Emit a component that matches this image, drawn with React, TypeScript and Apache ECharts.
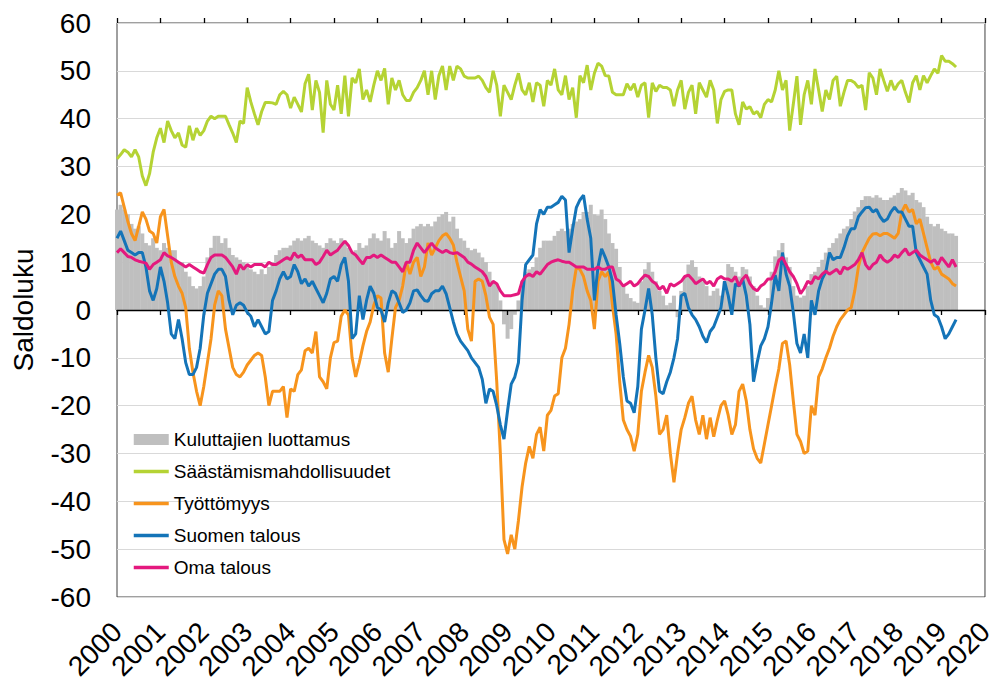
import React, { useEffect, useRef } from "react";
import * as echarts from "echarts";

// Monthly data, January 2000 – May 2019
const START_YEAR = 2000;
const X_MIN = 2000;
const X_MAX = 2020;
const Y_MIN = -60;
const Y_MAX = 60;

const SERIES_NAMES = [
  "Kuluttajien luottamus",
  "Säästämismahdollisuudet",
  "Työttömyys",
  "Suomen talous",
  "Oma talous",
];

const kuluttajienLuottamus = [
  21, 22, 21, 20, 18, 17, 17.5, 16, 14, 13.5, 15, 13, 12.5, 14, 13, 12.5, 12.5, 10, 10, 8, 7, 5, 4.5, 5, 7, 11, 13, 15.5, 15.5, 14,
  15, 13, 11.5, 11, 10.5, 10, 9.5, 8.5, 8, 7.5, 8.5, 7.5, 9, 10, 11.5, 12.5, 13, 13, 13.5, 14.5, 15, 14.5, 15, 15.5, 14.5, 14, 13.5, 13, 14, 15,
  14.5, 14, 15, 14.5, 13, 12, 12.5, 14, 13, 13.5, 15, 16, 15, 14.5, 16.5, 15, 13, 14, 16.5, 15, 14, 15, 17, 17.5, 18, 17.5, 18, 17.5, 18.5, 19.5,
  20, 20.5, 18.5, 19.5, 17, 15, 14.5, 13, 12.5, 12.8, 12, 11, 10, 8, 6, 5.5, 2, -3, -6, -4, -1, 2, 6, 8, 8.5, 9, 11, 13, 14.5, 14.5,
  14.5, 15.5, 16.5, 17, 16.5, 17, 18, 18.5, 19, 20.5, 20.5, 22, 20, 19.8, 21, 19, 16, 14, 12.8, 9, 5, 3.4, 2.5, 1.8, 1.5, 6, 8.5, 10, 8, 6, 4,
  3, 1, 1.5, 3, -1.5, 4, 7, 9.5, 10.4, 9, 7, 6, 5, 3, 4, 4.5, 3, 6, 9.6, 9, 8, 7, 9, 8.5, 7, 5, 3, 1, 0.5, 2.5,
  8, 11.2, 12.5, 14, 11, 9, 5, 3, 2.6, 3, 5, 7.5, 8, 9, 10.5, 12, 13, 14, 15, 16, 17, 17.5, 19, 20.6, 21.5, 23, 23.8, 23.8, 23.5, 24,
  23.5, 23, 23, 23.5, 24, 24.5, 25.5, 25, 24, 24.5, 23, 22.5, 21.5, 19.5, 18, 17.5, 18, 17, 16.5, 16, 16, 15.5,
];

const saastamismahdollisuudet = [
  31.6, 32.5, 33.5, 33, 32, 33.5, 32, 28, 26, 28.5, 33, 36, 38, 35, 39.5, 37.5, 36, 37, 34.5, 34, 38.5, 35.5, 38, 36.5, 37.5, 39.5, 40.5, 40, 40.5, 40.5,
  40.5, 38.7, 37, 35, 39.5, 39, 46.5, 43.5, 41, 38.7, 41.5, 43.4, 43.4, 43.3, 43, 45, 45.7, 45, 42.2, 44.5, 43, 41.4, 47.3, 49.3, 41.8, 48, 45.5, 37.1, 48, 43,
  41.8, 47, 41, 49, 40.5, 48.5, 47.5, 50.4, 44, 46, 43.5, 47, 50, 48, 50.5, 43, 48.5, 46, 48, 45, 43.8, 43.8, 45.5, 46.5, 48, 50, 45, 50, 44, 49,
  51, 46, 51, 48, 51, 50.4, 48.9, 48.5, 48.5, 48.5, 48.9, 48, 46.5, 45.5, 50, 47, 40.5, 47, 45.5, 44, 47, 49.5, 46, 45, 47.5, 43.5, 47.5, 47, 42.6, 48,
  47, 50.4, 46, 45, 49, 44, 46.5, 40.2, 49, 47.5, 51.2, 46, 49.5, 51.6, 51, 49, 48.9, 45.5, 45, 45, 45, 47.3, 46, 47.3, 44.5, 47, 47.5, 40.2, 47.5, 45.7,
  47, 46.5, 46.5, 46, 42.6, 46, 48, 42, 45.5, 47, 41, 47.5, 46, 44.5, 48, 46, 39, 44, 45.7, 46, 46, 41, 38.7, 43.5, 42, 42.5, 41, 41.5, 40.2, 43, 44,
  43.5, 46, 50, 46, 48, 37.5, 43, 48.9, 38.7, 45, 48, 43, 50.4, 46, 41.5, 46, 44, 48, 48.9, 42.6, 45.5, 48, 48, 47.5, 46.5, 47, 41.8, 49.6, 48.5, 45,
  50.4, 48, 45.7, 48, 46, 47.3, 48, 45.5, 43.4, 47.5, 49, 46, 49, 47.5, 49, 50.4, 49.5, 53.2, 52, 52, 51.5, 50.8,
];

const tyottomyys = [
  24, 24.5, 21.5, 18.5, 16, 14.5, 17.5, 20.5, 19, 16.5, 16, 14, 19.5, 21, 15.5, 10, 7, 5, 3.5, 0.5, -8, -13, -17, -20, -16, -11, -6, 1, 4, 3,
  -4, -8, -12, -13.5, -14, -13, -11.5, -10.5, -9.5, -9, -9.5, -14, -20, -17, -17, -17, -16, -22.5, -16.5, -17, -13.5, -12.5, -8.5, -8, -9, -4.5, -14, -15, -16.5, -10,
  -6.8, -6.5, -1.3, 0, -1, -10, -14, -11, -7.5, -4.5, -2.5, 1, 3, 2.5, -9, -13, -6, 0.5, 2, 5, 10, 7.5, 10, 11, 7, 9, 14, 11.5, 13, 14.5,
  15.5, 16, 15, 13.6, 10, 7, 4, -4, -6.5, 6, 6.5, 6, 3, -1.5, -3, -15, -30, -48, -51, -47, -50, -44, -37, -32, -28.5, -31, -26, -24.5, -29.5, -22,
  -21, -18, -17.5, -10, -8, -3, 4, 8.9, 8.5, 7, 4, 2, -4, 6, 8, 7, 8, 1, -5, -15, -23, -25, -26.4, -29.5, -26, -17, -13, -9.5, -12, -18, -26,
  -25, -22, -30, -36, -30, -25, -22.5, -19.5, -18, -23, -26, -22, -27, -22.5, -26.5, -23, -20, -19, -22, -26, -24, -17, -15.5, -19, -25, -29, -31, -32, -28, -24,
  -20, -16, -12.3, -7, -6.5, -11.5, -19, -26, -27.5, -30, -29.5, -20, -22, -14, -12.3, -10, -8, -5.5, -3.5, -2, -1, 0, 0.5, 4, 9, 12, 13.5, 15, 15.9, 16,
  15.5, 16, 16, 15.5, 15, 16, 20.5, 22, 20.5, 21, 18, 19, 16, 13, 10, 8.5, 9, 7.5, 7, 6.5, 5.5, 5,
];

const suomenTalous = [
  15, 16.5, 14.5, 12.5, 12, 11.5, 12, 12, 9, 4, 2, 4.5, 9, 6, 1.5, -5, -6, -2, -6, -11, -13.5, -13.5, -12, -8, -1, 3.5, 5.5, 7.5, 8.5, 8.5,
  7, 2, -1, 1, 1.5, 1, -0.5, -1.3, -3.5, -2, -3.5, -5, -4.5, 2, 4, 6.5, 8, 6.5, 7, 9.5, 8, 5.5, 6.5, 5, 6, 4.5, 3, 1.5, 3.5, 6.5,
  7, 6, 9.5, 11, 6, -6, -5, 3, -2, 2, 5, 3.5, 0.5, 0, -2.5, 1.5, 4, 3.5, 1.5, -0.5, 0, 1.5, 4, 4.2, 3, 2, 1.8, 3.4, 4, 4,
  5, 3.4, 0.5, -2.5, -5, -6.5, -7.5, -8.5, -10, -11, -12, -14.5, -19.5, -16.5, -17, -20, -24, -27, -21, -15.5, -14, -11, 2, 9.5, 10.5, 11.5, 18, 21, 20, 21.5,
  21.5, 22, 22.5, 23.8, 23, 12, 17, 21.4, 23, 24, 19, 15, 2, 9, 12.8, 11, 9, 6, -1, -7, -14, -19, -19.5, -21.5, -16, -4, 0, 4.5, -1, -10, -17,
  -17.5, -15, -13, -10, -6, 3, 3.5, 0.5, -1, -2, -3.5, -5.5, -6.8, -4.5, -3.5, -1.5, 0.5, 6, 3, -1, 5.5, 5, 6.5, 3, -3, -15, -11, -7.5, -6, -3.5,
  1.5, 7.3, 4, 12, 7.5, 5, -0.5, -7, -9, -5, -10, 2, -1, 4, 6.5, 8, 12, 10.5, 11, 11, 13, 15.5, 17, 17, 19.5, 20.5, 21.4, 21.5, 20.5, 21,
  19.5, 18.5, 19, 20.5, 21.5, 20.5, 20.5, 19, 17.5, 17.5, 12, 10.5, 9, 7.5, 2, -1, -1.5, -3.5, -6, -5, -3.5, -2,
];

const omaTalous = [
  12, 12.8, 12, 11.2, 11, 10.5, 10.2, 10, 9.8, 8.5, 9.5, 10, 10.5, 12, 11.3, 11, 10.5, 10, 9.5, 9, 9.5, 9, 8.5, 8, 7.7, 9.5, 11, 11.5, 11.5, 11.5,
  11, 10, 9, 7.5, 9.5, 8.5, 9.5, 9, 9.5, 9.5, 9.5, 9, 10, 9.5, 9.5, 10, 10.5, 11, 10.5, 12, 11, 11.5, 10.5, 10.5, 10.5, 9.5, 10, 11.2, 12.5, 11.5,
  12, 12.5, 13.5, 14.4, 13.5, 12, 11.5, 10.5, 9.6, 11, 11, 11.5, 11, 11.5, 11, 10.5, 10, 10, 9, 8, 10, 10, 12.5, 14, 13, 12, 13, 14, 13, 12.5,
  12, 12.5, 12, 11.8, 12, 11.5, 11, 10, 9.6, 9, 8.5, 8, 7, 5, 6, 5.5, 4, 3, 3, 3, 3.2, 3.4, 6, 7, 7.5, 7, 8, 7.5, 8.5, 9.5,
  10, 10.3, 10.5, 10.2, 10, 10, 9.5, 9, 9, 9, 8.5, 8.5, 8.5, 9, 8.5, 8.5, 9, 9, 6.5, 6, 5, 5.5, 6, 5, 5.5, 6.5, 7.3, 7, 6, 5.5, 4.3,
  5, 3.5, 5.5, 5, 5.5, 6, 7, 7.3, 6.5, 5.5, 6, 6.5, 5.5, 6, 5, 6.5, 7, 6.5, 6.5, 6, 7, 5, 6.5, 7.3, 5.5, 4.5, 4, 5, 5.5, 6.5,
  6.5, 8, 10.4, 11, 9.5, 8, 7, 5.5, 3.4, 4.5, 6, 5.5, 7, 6.5, 7.5, 8.1, 7.5, 8, 8.5, 7.5, 9, 8.5, 9, 9.5, 10.5, 12, 9.5, 8.5, 9.5, 10,
  11.5, 10.5, 10, 10.5, 11.5, 11, 12, 12.8, 11.5, 12, 12.5, 11.5, 11, 10.5, 10, 10.5, 9.5, 11, 10, 9, 10.5, 9,
];

const COLORS = {
  bars: "#bfbfbf",
  savings: "#b5d334",
  unemployment: "#f7941d",
  economy: "#1474b8",
  own: "#e4197e",
};

function toPoints(values: number[]) {
  return values.map((v, i) => [START_YEAR + i / 12, v]);
}

export default function App() {
  const ref = useRef<HTMLDivElement>(null);

  useEffect(() => {
    if (!ref.current) return;
    const chart = echarts.init(ref.current, null, { renderer: "svg" });
    const font = '"Liberation Sans", Arial, sans-serif';

    const lineSeries = (name: string, values: number[], color: string) => ({
      name,
      type: "line",
      xAxisIndex: 0,
      yAxisIndex: 0,
      data: toPoints(values),
      showSymbol: false,
      symbol: "none",
      smooth: false,
      lineStyle: { width: 3, color },
      itemStyle: { color },
      z: 20,
    });

    const sharedX = {
      type: "value",
      min: X_MIN,
      max: X_MAX,
      interval: 1,
      splitLine: { show: false },
    };

    const hiddenSymbol = { opacity: 0, color: "rgba(0,0,0,0)", borderWidth: 0 };

    chart.setOption({
      animation: false,
      backgroundColor: "#ffffff",
      textStyle: { fontFamily: font },
      grid: {
        left: 117,
        right: 2,
        top: 23,
        bottom: 87,
        show: true,
        borderColor: "#404040",
        borderWidth: 1,
      },
      legend: {
        orient: "vertical",
        left: 132,
        top: 430,
        padding: 0,
        itemGap: 13,
        itemWidth: 35,
        itemHeight: 11,
        lineStyle: { width: 3.5 },
        textStyle: { fontSize: 19, color: "#000", fontFamily: font },
        data: [
          { name: SERIES_NAMES[0], icon: "rect" },
          { name: SERIES_NAMES[1], itemStyle: hiddenSymbol },
          { name: SERIES_NAMES[2], itemStyle: hiddenSymbol },
          { name: SERIES_NAMES[3], itemStyle: hiddenSymbol },
          { name: SERIES_NAMES[4], itemStyle: hiddenSymbol },
        ],
      },
      xAxis: [
        {
          ...sharedX,
          position: "bottom",
          axisLine: { show: false, onZero: false },
          axisTick: { show: false },
          axisLabel: {
            rotate: 45,
            fontSize: 28,
            color: "#000",
            fontFamily: font,
            margin: 30,
            formatter: (v: number) => String(Math.round(v)),
          },
        },
        {
          ...sharedX,
          position: "bottom",
          z: 10,
          axisLine: { show: true, onZero: true, lineStyle: { color: "#000", width: 1.3 } },
          axisTick: { show: true, length: 5, lineStyle: { color: "#000", width: 1.3 } },
          axisLabel: { show: false },
        },
        {
          ...sharedX,
          position: "top",
          z: 10,
          axisLine: { show: false, onZero: true },
          axisTick: { show: true, length: 5, lineStyle: { color: "#000", width: 1.3 } },
          axisLabel: { show: false },
        },
      ],
      yAxis: {
        type: "value",
        min: Y_MIN,
        max: Y_MAX,
        interval: 10,
        name: "Saldoluku",
        nameLocation: "middle",
        nameGap: 80,
        nameTextStyle: { fontSize: 28, color: "#000", fontFamily: font },
        axisLine: { show: false },
        axisTick: { show: false },
        splitLine: { lineStyle: { color: "#d9d9d9", width: 1 } },
        axisLabel: { fontSize: 28, color: "#000", fontFamily: font, margin: 26 },
      },
      series: [
        {
          name: SERIES_NAMES[0],
          type: "bar",
          xAxisIndex: 0,
          yAxisIndex: 0,
          data: toPoints(kuluttajienLuottamus),
          barWidth: 4,
          itemStyle: { color: COLORS.bars },
          z: 2,
        },
        lineSeries(SERIES_NAMES[1], saastamismahdollisuudet, COLORS.savings),
        lineSeries(SERIES_NAMES[2], tyottomyys, COLORS.unemployment),
        lineSeries(SERIES_NAMES[3], suomenTalous, COLORS.economy),
        lineSeries(SERIES_NAMES[4], omaTalous, COLORS.own),
      ],
    });

    return () => chart.dispose();
  }, []);

  return (
    <div
      ref={ref}
      style={{ position: "fixed", left: 0, top: 0, width: 997, height: 684, background: "#fff" }}
    />
  );
}
